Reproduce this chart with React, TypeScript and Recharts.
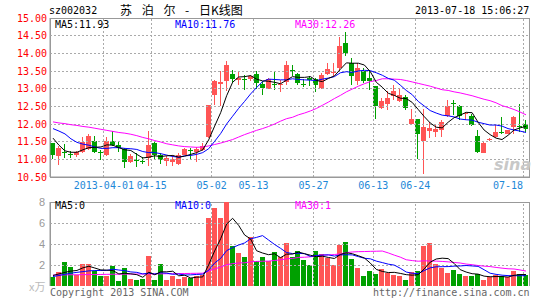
import React from 'react';
import { ComposedChart, Bar, Line, XAxis, YAxis, ReferenceLine, ReferenceArea, Cell } from 'recharts';

const RED = '#ff5555';
const GREEN = '#00a000';
const GRID = '#aaaaaa';
const FRAME = '#999999';
const MONO = '"DejaVu Sans Mono", monospace';

// trading days, 2013-03-19 .. 2013-07-18
const dates = [
    '03-19', '03-20', '03-21', '03-22', '03-25', '03-26', '03-27', '03-28', '03-29',
    '04-01', '04-02', '04-03', '04-08', '04-09', '04-10', '04-11', '04-12', '04-15', '04-16', '04-17',
    '04-18', '04-19', '04-22', '04-23', '04-24', '04-25', '04-26',
    '05-02', '05-03', '05-06', '05-07', '05-08', '05-09', '05-10', '05-13', '05-14', '05-15', '05-16',
    '05-17', '05-20', '05-21', '05-22', '05-23', '05-24', '05-27', '05-28', '05-29', '05-30', '05-31',
    '06-03', '06-04', '06-05', '06-06', '06-07', '06-13', '06-14', '06-17', '06-18', '06-19', '06-20',
    '06-21', '06-24', '06-25', '06-26', '06-27', '06-28',
    '07-01', '07-02', '07-03', '07-04', '07-05', '07-08', '07-09', '07-10', '07-11', '07-12',
    '07-15', '07-16', '07-17', '07-18',
];

const opens = [
    11.45, 11.09, 11.21, 11.16, 11.12, 11.21, 11.28, 11.52, 11.21, 11.12,
    11.52, 11.40, 11.28, 10.93, 10.97, 10.94, 11.05, 11.46, 11.12, 10.95,
    10.92, 10.88, 11.13, 11.26, 11.21, 11.27, 11.63, 12.83, 13.13, 13.23,
    13.42, 13.25, 13.26, 13.26, 13.42, 13.13, 13.00, 13.12, 13.12, 13.18,
    13.53, 13.42, 13.12, 13.30, 13.26, 13.02, 13.42, 13.45, 13.58, 14.28,
    13.73, 13.23, 13.49, 13.30, 13.07, 12.45, 12.58, 12.78, 12.64, 12.76,
    12.01, 12.13, 11.51, 11.80, 11.76, 11.82, 12.24, 12.60, 12.50, 12.28,
    12.23, 11.66, 11.19, 11.54, 11.64, 11.78, 11.73, 11.92, 11.93, 11.99,
];
const highs = [
    11.47, 11.38, 11.42, 11.23, 11.23, 11.64, 11.71, 11.66, 11.26, 11.64,
    11.79, 11.52, 11.31, 11.14, 11.17, 11.07, 11.80, 11.50, 11.17, 11.10,
    11.11, 11.18, 11.32, 11.32, 11.35, 11.46, 12.53, 13.25, 13.49, 13.79,
    13.54, 13.51, 13.40, 13.38, 13.49, 13.21, 13.30, 13.49, 13.25, 13.79,
    13.68, 13.44, 13.26, 13.37, 13.30, 13.44, 13.73, 13.73, 14.45, 14.60,
    13.87, 13.73, 13.59, 13.49, 13.08, 12.74, 12.92, 13.11, 13.02, 12.83,
    12.43, 12.14, 12.43, 12.05, 11.96, 12.10, 12.68, 12.68, 12.54, 12.35,
    12.29, 11.84, 11.49, 11.61, 11.96, 12.20, 11.84, 12.24, 12.57, 12.12,
];
const lows = [
    11.01, 10.84, 11.04, 11.04, 11.07, 11.19, 11.26, 11.19, 10.98, 11.10,
    11.38, 11.21, 10.76, 10.90, 10.79, 10.86, 10.80, 11.02, 10.87, 10.80,
    10.82, 10.83, 11.11, 11.02, 10.92, 11.23, 11.60, 12.55, 12.50, 12.92,
    13.16, 13.11, 12.97, 13.21, 12.99, 12.83, 12.99, 12.97, 12.90, 13.11,
    13.35, 13.11, 13.05, 13.07, 12.90, 12.99, 13.40, 13.35, 13.50, 13.92,
    13.09, 13.09, 13.16, 12.97, 12.14, 12.42, 12.41, 12.69, 12.61, 12.41,
    11.96, 11.00, 10.58, 11.59, 11.62, 11.64, 12.21, 12.25, 12.10, 12.12,
    11.93, 11.18, 11.17, 11.52, 11.59, 11.73, 11.71, 11.73, 11.78, 11.78,
];
const closes = [
    11.12, 11.33, 11.19, 11.14, 11.20, 11.48, 11.66, 11.22, 11.19, 11.52,
    11.40, 11.31, 10.93, 11.10, 10.95, 10.92, 11.40, 11.13, 10.98, 11.05,
    11.01, 11.13, 11.29, 11.24, 11.29, 11.39, 12.53, 13.23, 13.18, 13.68,
    13.27, 13.30, 13.25, 13.35, 13.16, 13.02, 13.27, 13.10, 13.14, 13.68,
    13.51, 13.16, 13.10, 13.25, 13.11, 13.40, 13.57, 13.47, 14.20, 14.00,
    13.35, 13.58, 13.23, 13.23, 12.50, 12.64, 12.74, 12.92, 12.83, 12.45,
    12.13, 11.73, 11.92, 11.90, 11.87, 12.05, 12.52, 12.58, 12.22, 12.30,
    11.96, 11.21, 11.45, 11.58, 11.78, 11.76, 11.82, 12.20, 11.91, 11.86,
];

const ma5 = [
    11.60, 11.40, 11.24, 11.20, 11.20, 11.27, 11.33, 11.34, 11.35, 11.41,
    11.40, 11.33, 11.27, 11.25, 11.14, 11.04, 11.06, 11.10, 11.08, 11.10,
    11.11, 11.06, 11.09, 11.14, 11.19, 11.27, 11.55, 11.94, 12.32, 12.80,
    13.18, 13.33, 13.34, 13.37, 13.27, 13.22, 13.21, 13.18, 13.14, 13.24,
    13.34, 13.32, 13.32, 13.34, 13.23, 13.20, 13.29, 13.36, 13.55, 13.73,
    13.72, 13.72, 13.67, 13.48, 13.18, 13.04, 12.87, 12.81, 12.73, 12.72,
    12.61, 12.41, 12.21, 12.03, 11.91, 11.89, 12.05, 12.18, 12.25, 12.33,
    12.32, 12.05, 11.83, 11.70, 11.60, 11.56, 11.68, 11.83, 11.89, 11.93,
];
const ma10 = [
    11.87, 11.80, 11.72, 11.58, 11.48, 11.43, 11.40, 11.35, 11.31, 11.31,
    11.33, 11.33, 11.31, 11.30, 11.28, 11.22, 11.19, 11.19, 11.16, 11.12,
    11.08, 11.06, 11.10, 11.11, 11.14, 11.19, 11.30, 11.51, 11.73, 12.00,
    12.22, 12.44, 12.64, 12.85, 13.03, 13.20, 13.27, 13.26, 13.25, 13.25,
    13.28, 13.26, 13.25, 13.24, 13.23, 13.27, 13.30, 13.34, 13.45, 13.48,
    13.46, 13.50, 13.52, 13.51, 13.45, 13.38, 13.29, 13.24, 13.10, 12.95,
    12.83, 12.64, 12.51, 12.38, 12.31, 12.25, 12.23, 12.20, 12.14, 12.12,
    12.11, 12.05, 12.01, 11.97, 11.97, 11.94, 11.87, 11.83, 11.80, 11.76,
];
const ma30 = [
    12.06, 12.03, 12.01, 11.98, 11.96, 11.93, 11.91, 11.88, 11.85, 11.82,
    11.79, 11.76, 11.74, 11.71, 11.67, 11.62, 11.58, 11.53, 11.49, 11.44,
    11.41, 11.38, 11.36, 11.35, 11.34, 11.35, 11.38, 11.42, 11.46, 11.51,
    11.56, 11.63, 11.70, 11.76, 11.82, 11.87, 11.93, 12.00, 12.08, 12.15,
    12.19, 12.26, 12.31, 12.37, 12.44, 12.53, 12.62, 12.72, 12.81, 12.91,
    12.99, 13.07, 13.14, 13.20, 13.23, 13.28, 13.28, 13.27, 13.26, 13.23,
    13.19, 13.15, 13.11, 13.07, 13.02, 12.97, 12.95, 12.91, 12.88, 12.84,
    12.80, 12.75, 12.70, 12.66, 12.60, 12.52, 12.47, 12.41, 12.34, 12.26,
];

// volume, in 10k lots
const volumes = [
    0.83, 1.37, 2.29, 1.84, 1.05, 2.10, 2.10, 1.46, 0.95, 0.95,
    1.90, 0.51, 1.75, 0.67, 0.57, 0.67, 2.89, 0.54, 2.10, 0.57,
    0.95, 0.70, 0.83, 0.73, 0.98, 1.05, 6.51, 7.43, 6.51, 7.98,
    3.81, 3.17, 2.79, 4.63, 2.38, 2.73, 2.38, 3.24, 2.75, 4.06,
    2.76, 3.33, 2.51, 2.00, 3.33, 3.05, 2.70, 2.00, 3.90, 4.19,
    2.57, 1.75, 0.95, 1.46, 1.17, 1.62, 1.21, 1.05, 0.95, 0.57,
    1.37, 1.46, 3.81, 4.13, 2.10, 1.75, 1.27, 1.52, 1.14, 0.95,
    0.95, 1.11, 0.57, 0.83, 1.05, 0.95, 0.83, 1.46, 1.14, 1.05,
];
const volMa5 = [
    1.00, 1.15, 1.30, 1.42, 1.48, 1.73, 1.88, 1.71, 1.53, 1.51,
    1.47, 1.15, 1.21, 1.16, 1.08, 0.83, 1.31, 1.07, 1.35, 1.35,
    1.41, 0.97, 1.03, 0.76, 0.84, 0.86, 2.02, 3.34, 4.50, 5.90,
    6.45, 5.78, 4.86, 4.48, 3.36, 3.14, 2.98, 3.07, 2.70, 3.03,
    3.04, 3.23, 3.08, 2.93, 2.79, 2.84, 2.72, 2.62, 3.00, 3.17,
    3.07, 2.88, 2.67, 2.18, 1.58, 1.39, 1.28, 1.30, 1.20, 1.08,
    1.03, 1.08, 1.63, 2.27, 2.57, 2.65, 2.61, 2.15, 1.56, 1.33,
    1.17, 1.13, 0.94, 0.88, 0.90, 0.90, 0.85, 1.02, 1.09, 1.09,
];
const volMa10 = [
    0.90, 1.00, 1.12, 1.22, 1.30, 1.37, 1.44, 1.47, 1.48, 1.49,
    1.60, 1.52, 1.46, 1.34, 1.30, 1.15, 1.23, 1.14, 1.26, 1.22,
    1.12, 1.14, 1.05, 1.06, 1.10, 1.13, 1.50, 2.19, 2.63, 3.37,
    3.66, 3.90, 4.10, 4.49, 4.63, 4.80, 4.38, 3.96, 3.59, 3.19,
    3.09, 3.11, 3.08, 2.81, 2.91, 2.94, 2.97, 2.85, 2.96, 2.98,
    2.96, 2.80, 2.64, 2.59, 2.37, 2.23, 2.08, 1.99, 1.69, 1.33,
    1.21, 1.18, 1.47, 1.73, 1.83, 1.84, 1.85, 1.89, 1.91, 1.95,
    1.91, 1.87, 1.55, 1.22, 1.11, 1.03, 0.99, 0.98, 0.98, 0.99,
];
const volMa30 = [
    1.05, 1.06, 1.06, 1.07, 1.07, 1.08, 1.09, 1.09, 1.10, 1.11,
    1.12, 1.12, 1.13, 1.13, 1.14, 1.14, 1.15, 1.15, 1.16, 1.17,
    1.17, 1.18, 1.19, 1.20, 1.21, 1.22, 1.42, 1.63, 1.80, 2.03,
    2.13, 2.19, 2.21, 2.30, 2.34, 2.36, 2.37, 2.43, 2.49, 2.59,
    2.62, 2.72, 2.74, 2.78, 2.88, 2.96, 2.95, 3.00, 3.06, 3.18,
    3.24, 3.27, 3.28, 3.30, 3.31, 3.33, 3.15, 2.94, 2.75, 2.50,
    2.42, 2.36, 2.40, 2.38, 2.37, 2.34, 2.30, 2.24, 2.19, 2.09,
    2.03, 1.95, 1.89, 1.85, 1.77, 1.70, 1.64, 1.62, 1.53, 1.42,
];

const priceTicks = [10.5, 11, 11.5, 12, 12.5, 13, 13.5, 14, 14.5, 15];
const priceGrid = [11, 11.5, 12, 12.5, 13, 13.5, 14, 14.5];
const volTicks = [2, 4, 6, 8];
const volGrid = [2, 4, 6];
const dateTicks = ['04-01', '04-15', '05-02', '05-13', '05-27', '06-13', '06-24', '07-18'];
const dateLabels = ['2013-04-01', '04-15', '05-02', '05-13', '05-27', '06-13', '06-24', '07-18'];

const rows = dates.map((date, i) => ({
    date,
    open: opens[i],
    high: highs[i],
    low: lows[i],
    close: closes[i],
    range: [lows[i], highs[i]],
    volume: volumes[i],
    ma5: ma5[i],
    ma10: ma10[i],
    ma30: ma30[i],
    vma5: volMa5[i],
    vma10: volMa10[i],
    vma30: volMa30[i],
}));

const Candle = (props: any) => {
    const { x, y, width, height, payload } = props;
    if (!payload) return null;
    const { open, close, high, low } = payload;
    const color = close >= open ? RED : GREEN;
    const top = Math.min(y, y + height);
    const h = Math.abs(height);
    const span = high - low || 1;
    const py = (v: number) => top + ((high - v) / span) * h;
    const left = Math.round(x);
    const w = Math.max(1, Math.round(width));
    const cx = left + Math.floor(w / 2) + 0.5;
    const bodyTop = Math.round(py(Math.max(open, close)));
    const bodyBot = Math.round(py(Math.min(open, close)));
    return (
        <g>
            <line x1={cx} x2={cx} y1={top} y2={top + h} stroke={color} strokeWidth={1} shapeRendering="crispEdges" />
            <rect x={left} y={bodyTop} width={w} height={Math.max(1, bodyBot - bodyTop)} fill={color} shapeRendering="crispEdges" />
        </g>
    );
};

// labels sit on the left edge of the day's slot, the last one is pulled inside the frame
const DateTick = (props: any) => {
    const { x, y, payload } = props;
    const idx = dateTicks.indexOf(payload.value);
    const isLast = idx === dateTicks.length - 1;
    return (
        <text x={x - 3} y={y} dy="0.71em" textAnchor={isLast ? 'end' : 'middle'} fill="#1e88d8" fontSize={10} fontFamily={MONO}>
            {dateLabels[idx]}
        </text>
    );
};

const txt = (left: number, top: number, color: string, extra: React.CSSProperties = {}): React.CSSProperties => ({
    position: 'absolute',
    left,
    top,
    color,
    fontFamily: MONO,
    fontSize: 10,
    lineHeight: '10px',
    whiteSpace: 'pre',
    ...extra,
});

const gridLines = (values: number[]) =>
    values.map((v) => (
        <ReferenceLine key={`h-${v}`} y={v} stroke={GRID} strokeDasharray="2 2" shapeRendering="crispEdges" />
    ));

const dateLines = () =>
    dateTicks.map((d) => (
        <ReferenceLine key={`v-${d}`} x={d} position="start" stroke={GRID} strokeDasharray="2 2" shapeRendering="crispEdges" />
    ));

const last = rows.length - 1;

export default function App() {
    return (
        <div style={{ position: 'absolute', left: 0, top: 0, width: 545, height: 300, background: '#fff', overflow: 'hidden' }}>
            <div style={{ position: 'absolute', left: 0, top: 0 }}>
                <ComposedChart width={545} height={195} data={rows} margin={{ top: 18, right: 16, bottom: 0, left: 0 }} barCategoryGap={0}>
                    <XAxis
                        dataKey="date"
                        ticks={dateTicks}
                        interval={0}
                        height={18}
                        tickLine={false}
                        tickSize={0}
                        tickMargin={5}
                        axisLine={{ stroke: FRAME }}
                        tick={<DateTick />}
                    />
                    <YAxis
                        domain={[10.5, 15]}
                        ticks={priceTicks}
                        allowDataOverflow
                        width={50}
                        tickLine={false}
                        tickSize={0}
                        tickMargin={3}
                        axisLine={{ stroke: FRAME }}
                        tickFormatter={(v: number) => v.toFixed(2)}
                        tick={{ fill: '#ff0000', fontSize: 10, fontFamily: MONO }}
                    />
                    {gridLines(priceGrid)}
                    {dateLines()}
                    <ReferenceArea y1={10.5} y2={15} fill="none" stroke={FRAME} shapeRendering="crispEdges" />
                    <Bar dataKey="range" barSize={5} shape={Candle} isAnimationActive={false} />
                    <Line dataKey="ma30" stroke="#ff00ff" strokeWidth={1} dot={false} activeDot={false} isAnimationActive={false} />
                    <Line dataKey="ma10" stroke="#0000ff" strokeWidth={1} dot={false} activeDot={false} isAnimationActive={false} />
                    <Line dataKey="ma5" stroke="#000000" strokeWidth={1} dot={false} activeDot={false} isAnimationActive={false} />
                </ComposedChart>
            </div>

            <div style={{ position: 'absolute', left: 0, top: 190 }}>
                <ComposedChart width={545} height={96} data={rows} margin={{ top: 12, right: 16, bottom: 0, left: 0 }} barCategoryGap={0}>
                    <XAxis dataKey="date" height={0} tick={false} tickLine={false} axisLine={{ stroke: FRAME }} />
                    <YAxis
                        domain={[0, 8]}
                        ticks={volTicks}
                        allowDataOverflow
                        width={50}
                        tickLine={false}
                        tickSize={0}
                        tickMargin={5}
                        axisLine={{ stroke: FRAME }}
                        tick={{ fill: '#999999', fontSize: 11, fontFamily: '"Liberation Sans", sans-serif' }}
                    />
                    {gridLines(volGrid)}
                    {dateLines()}
                    <ReferenceArea y1={0} y2={8} fill="none" stroke={FRAME} shapeRendering="crispEdges" />
                    <Bar dataKey="volume" barSize={5} isAnimationActive={false} shapeRendering="crispEdges">
                        {rows.map((r, i) => (
                            <Cell key={`vol-${i}`} fill={r.close >= r.open ? RED : GREEN} />
                        ))}
                    </Bar>
                    <Line dataKey="vma30" stroke="#ff00ff" strokeWidth={1} dot={false} activeDot={false} isAnimationActive={false} />
                    <Line dataKey="vma10" stroke="#0000ff" strokeWidth={1} dot={false} activeDot={false} isAnimationActive={false} />
                    <Line dataKey="vma5" stroke="#000000" strokeWidth={1} dot={false} activeDot={false} isAnimationActive={false} />
                </ComposedChart>
            </div>

            <div style={txt(49, 6, '#000')}>sz002032</div>
            <div style={txt(120, 3, '#000', { fontFamily: '"Noto Sans CJK SC", sans-serif', fontSize: 12, lineHeight: '14px', wordSpacing: 7 })}>
                苏 泊 尔 - 日K线图
            </div>
            <div style={txt(415, 6, '#000')}>2013-07-18 15:06:27</div>

            <div style={txt(55, 20, '#000')}>{`MA5:${rows[last].ma5.toFixed(2)}`}</div>
            <div style={txt(175, 20, '#0000ff')}>{`MA10:${rows[last].ma10.toFixed(2)}`}</div>
            <div style={txt(295, 20, '#ff00ff')}>{`MA30:${rows[last].ma30.toFixed(2)}`}</div>

            <div style={txt(55, 201, '#000')}>MA5:0</div>
            <div style={txt(175, 201, '#0000ff')}>MA10:0</div>
            <div style={txt(295, 201, '#ff00ff')}>MA30:1</div>

            <div style={txt(29, 281, '#bbbbbb', { fontFamily: '"Noto Sans CJK SC", sans-serif', fontSize: 11, lineHeight: '11px' })}>x万</div>
            <div style={txt(50, 288, '#666666')}>Copyright 2013 SINA.COM</div>
            <div style={txt(373, 288, '#666666')}>http://finance.sina.com.cn</div>

            <div style={txt(494, 157, '#c8c8c8', { fontFamily: '"DejaVu Sans", sans-serif', fontSize: 16, lineHeight: '16px', fontStyle: 'italic', fontWeight: 'bold' })}>sina</div>
        </div>
    );
}
